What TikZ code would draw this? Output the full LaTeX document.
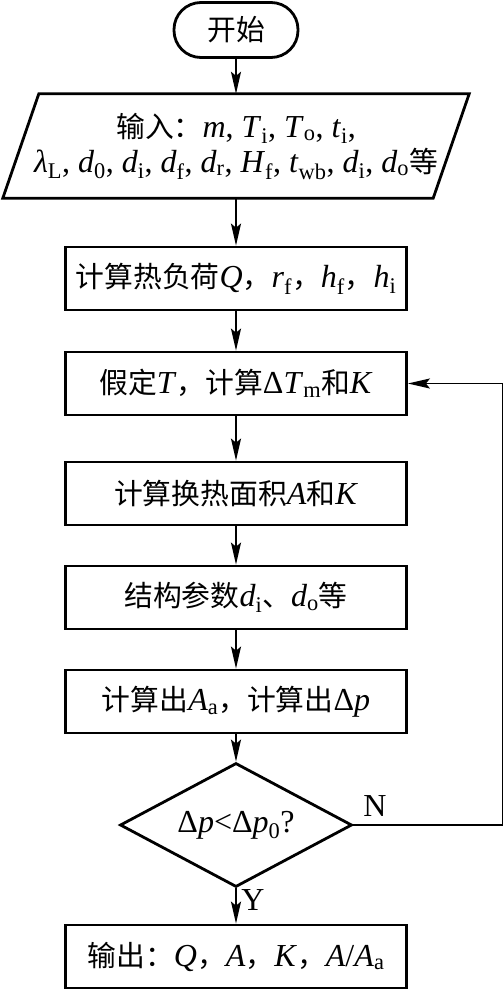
\documentclass[tikz,border=0pt]{standalone}
\usepackage{fontspec}
\setmainfont{Liberation Serif}
\newfontfamily\cjk[Scale=0.9]{Noto Sans CJK SC}
\usetikzlibrary{shapes.geometric,arrows.meta}
\newcommand\zh[1]{{\cjk #1}}
\newcommand\sbs[1]{\textsubscript{#1}}
\newcommand\iv[1]{\textit{#1}}
\begin{document}
\begin{tikzpicture}[x=1pt,y=-1pt,
  every node/.style={font=\fontsize{32}{35}\selectfont},
  procbox/.style={draw, line width=2.8pt, minimum width=341pt, minimum height=63pt, inner sep=0pt},
  conn/.style={line width=1.7pt, -{Stealth[length=22pt,width=10pt,inset=4pt]}},
  lbl/.style={inner sep=0pt}]
\useasboundingbox (0,0) rectangle (503,990);
\node[draw, line width=2.8pt, rounded corners=27pt, minimum width=124pt, minimum height=55pt, inner sep=0pt] (start) at (236,30) {\zh{开始}};
\node[minimum width=466pt, minimum height=104pt, inner sep=0pt, align=center] (inp) at (236,146)
  {\zh{输入：}\iv{m}, \iv{T}\sbs{i}, \iv{T}\sbs{o}, \iv{t}\sbs{i},\\
   \iv{λ}\sbs{L}, \iv{d}\sbs{0}, \iv{d}\sbs{i}, \iv{d}\sbs{f}, \iv{d}\sbs{r}, \iv{H}\sbs{f}, \iv{t}\sbs{wb}, \iv{d}\sbs{i}, \iv{d}\sbs{o}\zh{等}};
\draw[line width=2.8pt] ([xshift=36pt]inp.north west) -- (inp.north east) -- ([xshift=-36pt]inp.south east) -- (inp.south west) -- cycle;
\node[procbox] (b2) at (236,278.5) {\zh{计算热负荷}\iv{Q}\zh{，}\iv{r}\sbs{f}\zh{，}\iv{h}\sbs{f}\zh{，}\iv{h}\sbs{i}};
\node[procbox] (b3) at (236,383.5) {\zh{假定}\iv{T}\zh{，计算}Δ\iv{T}\sbs{m}\zh{和}\iv{K}};
\node[procbox] (b4) at (236,493.5) {\zh{计算换热面积}\iv{A}\zh{和}\iv{K}};
\node[procbox] (b5) at (236,597.5) {\zh{结构参数}\iv{d}\sbs{i}\zh{、}\iv{d}\sbs{o}\zh{等}};
\node[procbox] (b6) at (236,701.5) {\zh{计算出}\iv{A}\sbs{a}\zh{，计算出}Δ\iv{p}};
\node[draw, diamond, line width=2.8pt, minimum width=232pt, minimum height=124pt, inner sep=0pt, aspect=1.87] (dia) at (236,825) {Δ\iv{p}<Δ\iv{p}\sbs{0}?};
\node[procbox] (out) at (236,956.5) {\zh{输出：}\iv{Q}\zh{，}\iv{A}\zh{，}\iv{K}\zh{，}\iv{A}/\iv{A}\sbs{a}};
\node[lbl] (nlab) at (375,806) {N};
\node[lbl] (ylab) at (253,900) {Y};
\draw[conn] (start.south) -- (inp.north);
\draw[conn] (inp.south) -- (b2.north);
\draw[conn] (b2.south) -- (b3.north);
\draw[conn] (b3.south) -- (b4.north);
\draw[conn] (b4.south) -- (b5.north);
\draw[conn] (b5.south) -- (b6.north);
\draw[conn] (b6.south) -- (dia.north);
\draw[conn] (dia.south) -- (out.north);
\draw[conn] (dia.east) -- ++(149,0) |- (b3.east);
\end{tikzpicture}
\end{document}
